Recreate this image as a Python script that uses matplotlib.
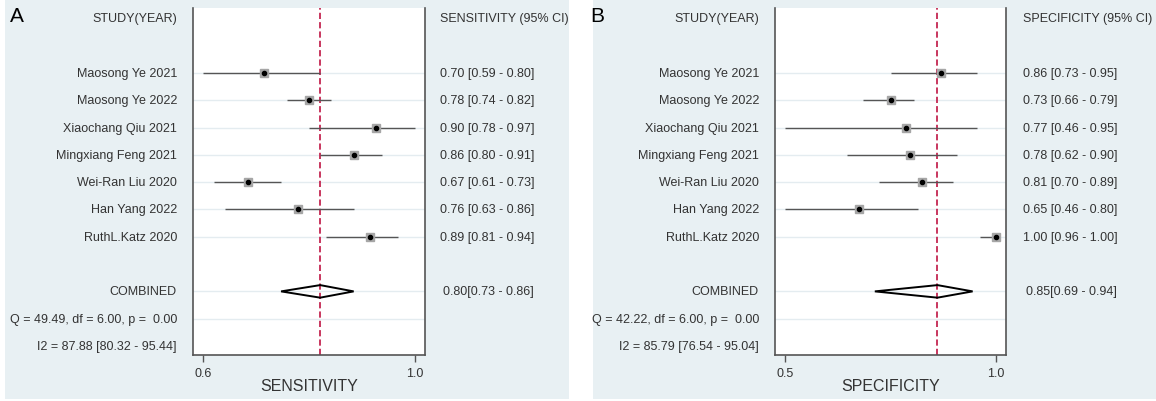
import matplotlib
matplotlib.use("Agg")
import matplotlib.pyplot as plt
from matplotlib.patches import Rectangle, Polygon
from matplotlib.transforms import blended_transform_factory
import numpy as np

# ---------------- data ----------------
studies = ["Maosong Ye 2021", "Maosong Ye 2022", "Xiaochang Qiu 2021",
           "Mingxiang Feng 2021", "Wei-Ran Liu 2020", "Han Yang 2022",
           "RuthL.Katz 2020"]

sens = [0.70, 0.78, 0.90, 0.86, 0.67, 0.76, 0.89]
sens_lo = [0.59, 0.74, 0.78, 0.80, 0.61, 0.63, 0.81]
sens_hi = [0.80, 0.82, 0.97, 0.91, 0.73, 0.86, 0.94]
sens_pooled = [0.80, 0.73, 0.86]
sens_q = [49.49, 6.00, 0.00]
sens_i2 = [87.88, 80.32, 95.44]

spec = [0.86, 0.73, 0.77, 0.78, 0.81, 0.65, 1.00]
spec_lo = [0.73, 0.66, 0.46, 0.62, 0.70, 0.46, 0.96]
spec_hi = [0.95, 0.79, 0.95, 0.90, 0.89, 0.80, 1.00]
spec_pooled = [0.85, 0.69, 0.94]
spec_q = [42.22, 6.00, 0.00]
spec_i2 = [85.79, 76.54, 95.04]

# ---------------- style ----------------
plt.rcParams['font.family'] = ['Liberation Sans', 'DejaVu Sans']
BG = '#e8f0f3'
GRID = '#e4ecf0'
RED = '#c8365e'
TXT = '#333333'
SPINE = '#555555'

W, H = 1156, 402
fig = plt.figure(figsize=(W / 100, H / 100), dpi=100)
fig.patch.set_facecolor('white')


def fx(px):
    return px / W


def fy(py):
    return 1 - py / H


for x0, x1 in [(5, 569), (593, 1156)]:
    fig.patches.append(Rectangle((fx(x0), fy(400)), fx(x1 - x0), 400 / H,
                                 transform=fig.transFigure, facecolor=BG,
                                 edgecolor='none', zorder=-10))


def panel(letter, letter_x, ax_l, ax_r, lab_r, col_l, est, lo, hi, pooled,
          q, i2, xlabel, header):
    ax = fig.add_axes([fx(ax_l), fy(356), fx(ax_r - ax_l), 347 / H])
    ax.set_facecolor('white')
    n = len(est)
    rows = np.arange(2, 2 + n)
    comb_row = n + 3
    q_row = n + 4
    i2_row = n + 5
    ax.set_ylim(i2_row + 0.33, -0.38)
    lo_min, hi_max = min(lo), max(hi)
    m = 0.047 * (hi_max - lo_min)
    ax.set_xlim(lo_min - m, hi_max + m)

    for r in list(rows) + [comb_row, q_row]:
        ax.axhline(r, color=GRID, lw=1.0, zorder=0.5)
    ax.axvline(pooled[0], color=RED, ls=(0, (3.2, 1.6)), lw=1.4, zorder=1)
    ax.hlines(rows, lo, hi, color='#555555', lw=1.0, zorder=2)
    ax.plot(est, rows, 's', ms=5.6, mfc='#a6a6a6', mec='#a6a6a6', zorder=3)
    ax.plot(est, rows, 'o', ms=3.0, color='black', zorder=4)
    pe, pl, ph = pooled
    dh = 0.23
    ax.add_patch(Polygon([(pl, comb_row), (pe, comb_row - dh), (ph, comb_row),
                          (pe, comb_row + dh)], closed=True, facecolor='none',
                         edgecolor='black', lw=1.4, zorder=3))

    for s in ['left', 'right', 'bottom']:
        ax.spines[s].set_color(SPINE)
        ax.spines[s].set_linewidth(1.2)
    ax.spines['top'].set_visible(False)
    ax.set_yticks([])
    ax.set_xticks([lo_min, hi_max])
    ax.set_xticklabels([f"{lo_min:.1f}", f"{hi_max:.1f}"])
    ax.tick_params(axis='x', direction='out', length=5, width=1.0,
                   color=SPINE, labelsize=9, labelcolor=TXT, pad=4)

    tr = blended_transform_factory(fig.transFigure, ax.transData)
    ax.text(fx(lab_r), 0, "STUDY(YEAR)", transform=tr, ha='right',
            va='center', fontsize=9, color=TXT)
    ax.text(fx(col_l), 0, header, transform=tr, ha='left', va='center',
            fontsize=9, color=TXT)
    for r, name, e, l, h in zip(rows, studies, est, lo, hi):
        ax.text(fx(lab_r), r, name, transform=tr, ha='right', va='center',
                fontsize=9, color=TXT)
        ax.text(fx(col_l), r, f"{e:.2f} [{l:.2f} - {h:.2f}]", transform=tr,
                ha='left', va='center', fontsize=9, color=TXT)
    ax.text(fx(lab_r), comb_row, "COMBINED", transform=tr, ha='right',
            va='center', fontsize=9, color=TXT)
    ax.text(fx(col_l + 3), comb_row, f"{pe:.2f}[{pl:.2f} - {ph:.2f}]",
            transform=tr, ha='left', va='center', fontsize=9, color=TXT)
    ax.text(fx(lab_r), q_row,
            f"Q = {q[0]:.2f}, df = {q[1]:.2f}, p =  {q[2]:.2f}",
            transform=tr, ha='right', va='center', fontsize=9, color=TXT)
    ax.text(fx(lab_r), i2_row,
            f"I2 = {i2[0]:.2f} [{i2[1]:.2f} - {i2[2]:.2f}]",
            transform=tr, ha='right', va='center', fontsize=9, color=TXT)

    fig.text(fx((ax_l + ax_r) / 2), fy(387), xlabel, ha='center',
             va='center', fontsize=11.5, color=TXT)
    fig.text(fx(letter_x), fy(17), letter, ha='left', va='center',
             fontsize=15, color='black')
    return ax


panel("A", 10, 193, 425, 177, 440, sens, sens_lo, sens_hi, sens_pooled,
      sens_q, sens_i2, "SENSITIVITY", "SENSITIVITY (95% CI)")
panel("B", 590, 775, 1006, 759, 1023, spec, spec_lo, spec_hi, spec_pooled,
      spec_q, spec_i2, "SPECIFICITY", "SPECIFICITY (95% CI)")

fig.savefig("out.png", dpi=100, facecolor='white')
